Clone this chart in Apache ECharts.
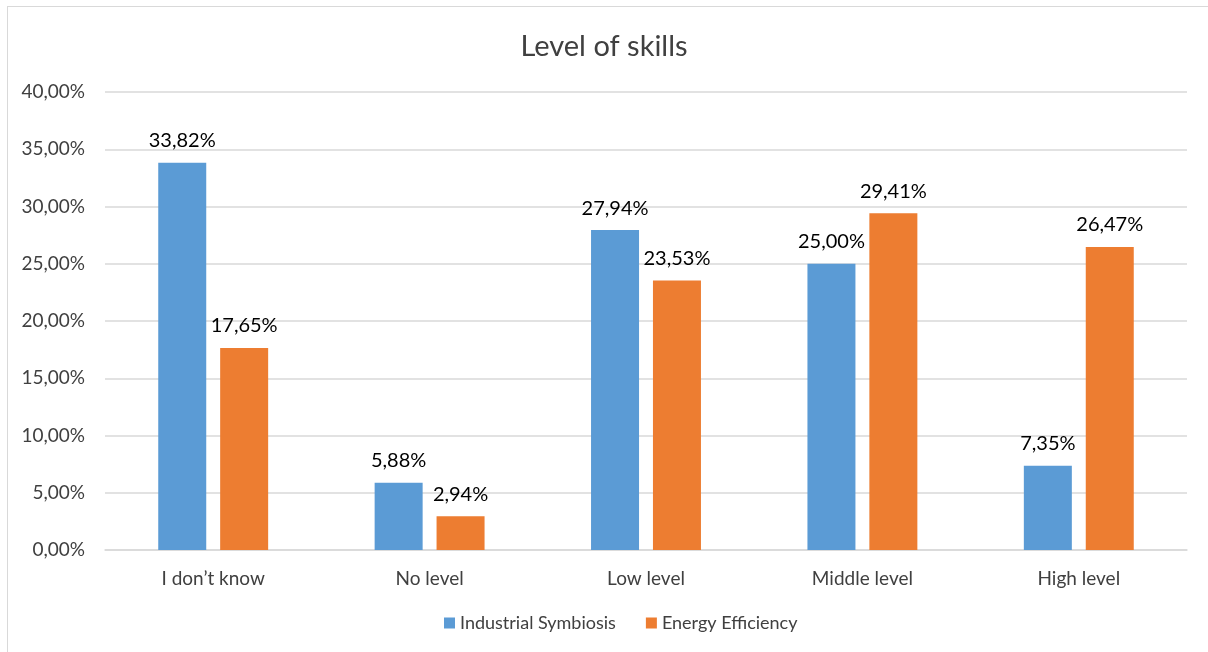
<!DOCTYPE html>
<html>
<head>
<meta charset="utf-8">
<script src="https://cdn.jsdelivr.net/npm/echarts@6/dist/echarts.min.js"></script>
<style>
  html, body { margin: 0; padding: 0; background: #fff; }
  #frame { position: absolute; left: 7px; top: 6px; width: 1220px; height: 660px; border: 1px solid #d9d9d9; box-sizing: border-box; }
  #chart { position: absolute; left: 0; top: 0; width: 1208px; height: 652px; }
</style>
</head>
<body>
<div id="frame"></div>
<div id="chart"></div>
<script>
// Skill levels reported for each topic (percent of respondents)
const categories = ['I don\u2019t know', 'No level', 'Low level', 'Middle level', 'High level'];
const industrialSymbiosis = [33.82, 5.88, 27.94, 25.00, 7.35];
const energyEfficiency = [17.65, 2.94, 23.53, 29.41, 26.47];
const seriesNames = ['Industrial Symbiosis', 'Energy Efficiency'];

const pct = v => v.toFixed(2).replace('.', ',') + '%';
const font = 'Lato, "Open Sans", sans-serif';

const chart = echarts.init(document.getElementById('chart'));
chart.setOption({
  animation: false,
  title: {
    text: 'Level of skills',
    left: 'center',
    top: 27,
    textStyle: { fontFamily: font, fontSize: 29, fontWeight: 'normal', color: '#404040' }
  },
  legend: {
    bottom: 15,
    left: 439,
    itemWidth: 11,
    itemHeight: 11,
    itemGap: 30,
    icon: 'rect',
    textStyle: { fontFamily: font, fontSize: 18, color: '#404040' },
    data: seriesNames
  },
  grid: { left: 105, right: 21, top: 92, bottom: 102, containLabel: false },
  xAxis: {
    type: 'category',
    data: categories,
    axisLine: { lineStyle: { color: '#d9d9d9', width: 1.5 } },
    axisTick: { show: false },
    axisLabel: { fontFamily: font, fontSize: 19, color: '#404040', margin: 19 }
  },
  yAxis: {
    type: 'value',
    min: 0,
    max: 40,
    interval: 5,
    axisLine: { show: false },
    axisTick: { show: false },
    splitLine: { lineStyle: { color: '#d9d9d9', width: 1.5 } },
    axisLabel: { fontFamily: font, fontSize: 19, color: '#404040', margin: 20, formatter: v => pct(v) }
  },
  series: [
    {
      name: seriesNames[0],
      type: 'bar',
      data: industrialSymbiosis,
      barWidth: 48,
      barGap: '29%',
      itemStyle: { color: '#5b9bd5' },
      label: { show: true, position: 'top', distance: 12, fontFamily: font, fontSize: 20, color: '#000', formatter: p => pct(p.value) }
    },
    {
      name: seriesNames[1],
      type: 'bar',
      data: energyEfficiency,
      barWidth: 48,
      itemStyle: { color: '#ed7d31' },
      label: { show: true, position: 'top', distance: 12, fontFamily: font, fontSize: 20, color: '#000', formatter: p => pct(p.value) }
    }
  ]
});
</script>
</body>
</html>
